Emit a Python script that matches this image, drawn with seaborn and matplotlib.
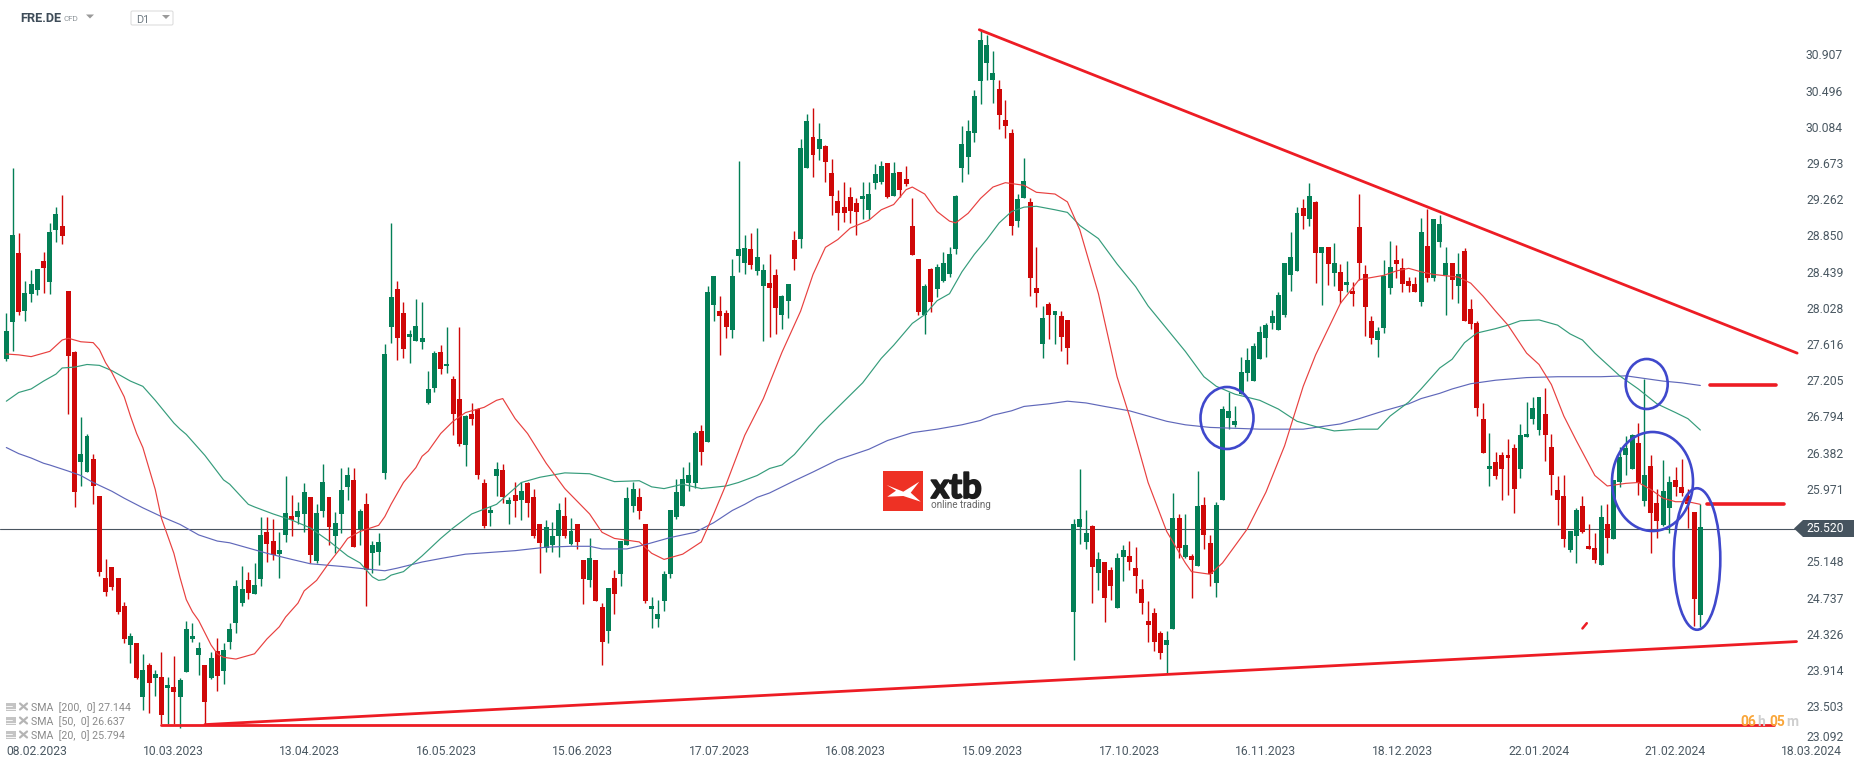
import numpy as np
import seaborn as sns
import matplotlib.pyplot as plt
import matplotlib.patheffects as pe
from matplotlib.patches import Ellipse, Polygon, FancyBboxPatch

# daily candles
highs = [
    27.95, 29.61, 28.86, 28.32, 28.44, 28.45, 28.65, 28.98, 29.16, 29.30,
    28.20, 27.52, 26.76, 26.57, 26.34, 25.85, 25.13, 25.04, 24.92, 24.64,
    24.29, 24.17, 24.05, 23.94, 23.87, 24.07, 23.79, 24.03, 23.77, 24.43,
    24.40, 24.18, 23.92, 24.07, 24.23, 24.17, 24.40, 24.89, 25.06, 24.99,
    25.09, 25.61, 25.61, 25.59, 25.44, 26.08, 25.87, 25.79, 26.00, 25.84,
    25.76, 26.22, 25.84, 25.67, 26.18, 26.19, 26.18, 25.71, 25.89, 25.34,
    25.43, 27.60, 28.98, 28.32, 28.08, 27.76, 28.11, 28.08, 27.29, 27.51,
    27.58, 27.79, 27.23, 27.79, 26.78, 26.92, 26.86, 26.05, 25.74, 26.25,
    26.22, 25.84, 26.01, 26.01, 26.01, 25.93, 25.54, 25.58, 25.56, 25.78,
    25.84, 25.60, 25.53, 25.12, 25.38, 25.12, 24.63, 24.80, 25.01, 25.34,
    25.96, 26.02, 25.95, 25.53, 24.70, 24.66, 25.00, 25.70, 26.05, 26.19,
    26.25, 26.60, 26.67, 28.26, 28.37, 28.14, 27.98, 28.57, 29.69, 28.84,
    28.86, 28.92, 28.51, 28.62, 28.45, 28.15, 28.28, 28.89, 29.94, 30.23,
    30.29, 30.12, 29.87, 29.71, 29.36, 29.45, 29.39, 29.26, 29.45, 29.45,
    29.65, 29.69, 29.66, 29.68, 29.56, 29.63, 29.27, 28.57, 28.28, 28.46,
    28.51, 28.65, 28.70, 29.30, 30.09, 30.16, 30.50, 31.19, 31.13, 30.95,
    30.62, 30.39, 30.05, 29.31, 29.72, 29.26, 28.70, 28.03, 28.07, 27.97,
    27.97, 27.87, 25.59, 26.17, 25.70, 25.52, 25.22, 25.10, 25.04, 25.20,
    25.29, 25.34, 25.27, 24.91, 24.65, 24.57, 24.31, 24.31, 25.89, 25.65,
    25.65, 25.19, 26.14, 25.84, 25.41, 25.79, 26.89, 27.05, 26.88, 27.45,
    27.55, 27.61, 27.80, 27.83, 27.98, 28.19, 28.52, 28.88, 29.16, 29.25,
    29.44, 29.23, 28.70, 28.70, 28.75, 28.51, 28.54, 28.30, 29.31, 28.50,
    27.92, 27.79, 28.56, 28.77, 28.73, 28.58, 28.36, 28.36, 29.04, 29.14,
    29.03, 29.07, 28.70, 28.52, 28.63, 28.69, 28.11, 27.86, 26.92, 26.58,
    26.36, 26.36, 26.51, 26.45, 26.68, 26.93, 26.99, 26.99, 27.09, 26.57,
    26.08, 26.09, 25.46, 25.72, 25.85, 25.53, 25.43, 25.75, 25.76, 26.04,
    26.42, 26.54, 26.57, 26.69, 27.19, 26.32, 25.94, 26.27, 26.08, 26.19,
    26.28, 25.93, 25.67, 25.76,
]
body_tops = [
    27.74, 28.84, 28.63, 28.18, 28.28, 28.45, 28.54, 28.88, 29.08, 28.95,
    28.20, 27.50, 26.34, 26.54, 26.28, 25.85, 24.92, 25.04, 24.92, 24.60,
    24.25, 24.17, 23.87, 23.92, 23.82, 23.78, 23.69, 23.67, 23.75, 24.33,
    24.25, 24.12, 23.92, 24.00, 24.08, 24.09, 24.33, 24.83, 24.79, 24.89,
    24.84, 25.41, 25.44, 25.34, 25.24, 25.66, 25.63, 25.68, 25.90, 25.84,
    25.66, 26.01, 25.84, 25.55, 25.92, 26.10, 26.04, 25.68, 25.76, 25.29,
    25.33, 27.48, 28.13, 28.22, 27.95, 27.71, 27.80, 27.66, 27.08, 27.49,
    27.50, 27.37, 27.19, 26.97, 26.77, 26.79, 26.85, 26.00, 25.69, 26.16,
    26.15, 25.81, 25.87, 25.91, 26.00, 25.84, 25.53, 25.50, 25.40, 25.70,
    25.63, 25.45, 25.53, 25.12, 25.15, 25.12, 24.58, 24.80, 24.92, 25.34,
    25.83, 25.94, 25.84, 25.53, 24.60, 24.50, 24.96, 25.69, 25.90, 26.05,
    26.10, 26.58, 26.60, 28.19, 28.37, 27.97, 27.95, 28.37, 28.68, 28.69,
    28.68, 28.59, 28.44, 28.29, 28.38, 28.14, 28.28, 28.78, 29.84, 30.14,
    29.96, 29.94, 29.86, 29.55, 29.23, 29.16, 29.28, 29.21, 29.29, 29.31,
    29.54, 29.63, 29.66, 29.55, 29.56, 29.48, 28.95, 28.57, 28.26, 28.45,
    28.47, 28.52, 28.62, 29.29, 29.88, 30.03, 30.43, 31.07, 31.01, 30.70,
    30.51, 30.16, 30.01, 29.25, 29.46, 29.22, 28.24, 27.89, 28.05, 27.97,
    27.92, 27.87, 25.53, 25.59, 25.43, 25.51, 25.13, 25.10, 25.01, 25.15,
    25.24, 25.17, 25.03, 24.79, 24.42, 24.52, 24.29, 24.21, 25.60, 25.60,
    25.30, 25.17, 25.74, 25.75, 25.32, 25.75, 26.85, 26.83, 26.71, 27.27,
    27.41, 27.57, 27.73, 27.81, 27.92, 28.16, 28.52, 28.59, 29.09, 29.15,
    29.29, 29.22, 28.70, 28.70, 28.52, 28.42, 28.30, 28.20, 28.93, 28.39,
    27.86, 27.74, 28.37, 28.48, 28.55, 28.46, 28.32, 28.28, 28.88, 28.71,
    29.03, 28.97, 28.52, 28.52, 28.39, 28.66, 28.00, 27.83, 26.74, 26.20,
    26.25, 26.32, 26.32, 26.41, 26.55, 26.56, 26.86, 26.99, 26.79, 26.42,
    25.92, 25.85, 25.46, 25.70, 25.74, 25.28, 25.26, 25.61, 25.53, 26.04,
    26.30, 26.41, 26.55, 26.46, 26.10, 26.20, 25.78, 25.91, 26.02, 26.04,
    25.96, 25.85, 25.67, 25.50,
]
body_bottoms = [
    27.42, 27.85, 27.96, 27.97, 28.17, 28.21, 28.46, 28.30, 28.90, 28.83,
    27.46, 25.90, 26.25, 26.13, 25.97, 24.99, 24.76, 24.81, 24.53, 24.22,
    24.15, 23.77, 23.56, 23.72, 23.77, 23.35, 23.66, 23.61, 23.56, 23.84,
    24.22, 24.04, 23.50, 23.77, 23.80, 23.85, 24.19, 24.40, 24.63, 24.74,
    24.73, 24.91, 25.31, 25.18, 25.19, 25.41, 25.58, 25.62, 25.65, 25.18,
    25.11, 25.68, 25.50, 25.40, 25.65, 25.96, 25.27, 25.48, 25.01, 25.20,
    25.21, 26.12, 27.79, 27.66, 27.54, 27.67, 27.63, 27.62, 26.92, 27.09,
    27.31, 27.34, 26.79, 26.45, 26.44, 26.74, 26.09, 25.51, 25.66, 26.08,
    25.84, 25.76, 25.80, 25.81, 25.77, 25.40, 25.32, 25.26, 25.29, 25.40,
    25.40, 25.31, 25.33, 24.91, 24.90, 24.65, 24.18, 24.31, 24.73, 24.96,
    25.29, 25.74, 25.68, 24.65, 24.56, 24.45, 24.65, 24.96, 25.61, 25.74,
    26.00, 26.00, 26.36, 26.47, 28.04, 27.91, 27.79, 27.76, 28.60, 28.52,
    28.50, 28.43, 28.26, 28.23, 28.01, 27.93, 28.09, 28.57, 28.80, 29.61,
    29.76, 29.82, 29.68, 29.29, 29.09, 29.09, 29.12, 29.11, 29.25, 29.13,
    29.44, 29.45, 29.28, 29.29, 29.36, 29.42, 28.61, 27.96, 27.93, 28.08,
    28.22, 28.32, 28.40, 28.68, 29.61, 29.73, 30.01, 30.60, 30.81, 30.62,
    30.21, 30.09, 28.94, 29.00, 29.27, 28.35, 28.18, 27.59, 27.93, 27.93,
    27.68, 27.55, 24.53, 25.50, 25.33, 25.04, 24.97, 24.69, 24.83, 24.57,
    25.16, 25.10, 24.94, 24.63, 24.38, 24.19, 24.06, 24.15, 24.33, 25.26,
    25.16, 25.12, 25.06, 25.41, 24.96, 24.86, 25.81, 26.75, 26.67, 27.02,
    27.26, 27.17, 27.42, 27.66, 27.83, 27.76, 27.93, 28.38, 28.43, 29.06,
    29.03, 28.64, 28.63, 28.51, 28.41, 28.20, 28.27, 28.17, 28.52, 28.02,
    27.66, 27.64, 27.78, 28.23, 28.51, 28.28, 28.26, 28.19, 28.08, 28.35,
    28.35, 28.76, 28.38, 28.33, 28.26, 27.86, 27.82, 26.86, 26.35, 26.16,
    26.08, 26.16, 26.29, 25.94, 26.16, 26.53, 26.74, 26.61, 26.55, 26.09,
    25.81, 25.36, 25.24, 25.40, 25.44, 25.25, 25.12, 25.07, 25.38, 25.36,
    26.01, 26.33, 26.17, 26.00, 25.80, 25.66, 25.57, 25.52, 25.72, 25.96,
    25.89, 25.76, 24.68, 24.49,
]
lows = [
    27.40, 27.51, 27.93, 27.86, 28.08, 28.16, 28.18, 28.17, 28.76, 28.74,
    26.79, 25.73, 25.97, 26.13, 25.76, 24.94, 24.71, 24.78, 24.50, 24.17,
    23.94, 23.76, 23.41, 23.37, 23.57, 23.25, 23.25, 23.25, 23.20, 23.84,
    24.19, 23.81, 23.25, 23.76, 23.62, 23.71, 24.10, 24.29, 24.60, 24.68,
    24.73, 24.83, 25.10, 25.12, 24.92, 25.33, 25.40, 25.54, 25.44, 25.09,
    25.09, 25.61, 25.29, 25.20, 25.43, 25.81, 25.27, 25.30, 24.60, 24.98,
    25.07, 26.05, 27.61, 27.41, 27.43, 27.38, 27.63, 27.54, 26.91, 27.05,
    27.25, 27.26, 26.55, 26.43, 26.20, 26.67, 26.05, 25.49, 25.51, 25.85,
    25.77, 25.54, 25.62, 25.58, 25.62, 25.37, 24.98, 25.21, 25.21, 25.16,
    25.38, 25.29, 25.25, 24.62, 24.81, 24.65, 23.92, 24.17, 24.50, 24.83,
    25.29, 25.67, 25.59, 24.63, 24.34, 24.36, 24.54, 24.92, 25.59, 25.74,
    25.91, 25.95, 26.21, 26.47, 27.86, 27.47, 27.66, 27.66, 28.42, 28.40,
    28.45, 28.38, 27.63, 27.68, 27.71, 27.77, 27.89, 28.44, 28.69, 29.61,
    29.51, 29.70, 29.45, 29.07, 28.90, 28.99, 28.98, 28.84, 29.03, 29.03,
    29.37, 29.42, 29.27, 29.29, 29.28, 29.40, 28.61, 27.93, 27.71, 27.96,
    28.13, 28.30, 28.36, 28.62, 29.45, 29.54, 29.91, 30.34, 30.62, 30.35,
    30.05, 29.95, 28.84, 28.93, 29.27, 28.14, 28.02, 27.43, 27.65, 27.60,
    27.52, 27.36, 23.98, 25.31, 25.25, 24.63, 24.78, 24.41, 24.66, 24.57,
    24.88, 25.01, 24.74, 24.50, 24.19, 24.08, 23.99, 23.83, 24.33, 25.15,
    25.15, 24.69, 25.06, 25.25, 24.83, 24.70, 25.81, 26.62, 26.65, 27.02,
    27.17, 27.17, 27.42, 27.45, 27.77, 27.76, 27.90, 28.20, 28.43, 28.91,
    28.94, 28.29, 28.04, 28.27, 28.26, 28.06, 28.19, 28.03, 28.33, 27.69,
    27.59, 27.44, 27.72, 28.17, 28.35, 28.19, 28.19, 28.19, 28.03, 28.30,
    28.31, 28.70, 27.93, 28.11, 28.06, 27.86, 27.77, 26.77, 26.35, 25.97,
    26.05, 25.81, 25.87, 25.66, 26.06, 26.53, 26.68, 26.55, 26.26, 25.87,
    25.52, 25.27, 25.22, 25.09, 25.43, 25.25, 25.09, 25.07, 25.20, 25.36,
    25.96, 26.09, 26.17, 25.87, 25.74, 25.20, 25.37, 25.51, 25.43, 25.85,
    25.86, 25.49, 24.37, 24.36,
]
direction = (
    "GGRGGGRGGR" "RRGGRRRRRR" "GRGRGRGRGG" "GGRGRGGGGR" "GGRRGGRGGR"
    "GGRGGGRGRG" "GGGRRGGGGG" "RGRRGRRRGG" "RGRGRRRGGG" "RGRRGRRGRG"
    "GGRRGGGGGG" "GGRGGRRGGG" "RGGRRGGRGG" "RGRRRRRRGG" "GGRGRRRRGR"
    "GGGGGGGGGG" "RRRGGRRGRG" "RRGGGRGRRG" "GRRRRRRGGR" "GRGRRGGGGG"
    "GGGGGGGGGR" "GRGRGRGRRR" "RGGGRRRRGR" "GGGRGRRRRG" "RRRRGGGGRR"
    "RRGGRRRGRG" "GGGRGRRGGR" "RRRG"
)

sma20_x = [
    0, 2, 4, 7, 9, 10, 12, 14, 15, 16, 17, 19, 20, 21, 22, 24, 25, 27, 28, 29,
    30, 31, 33, 34, 35, 37, 39, 40, 42, 44, 45, 47, 48, 50, 52, 54, 55, 57, 60,
    61, 62, 64, 66, 67, 68, 70, 72, 74, 77, 79, 80, 82, 84, 87, 90, 94, 96, 98,
    102, 104, 106, 109, 112, 114, 116, 119, 122, 125, 128, 130, 132, 134, 136,
    139, 141, 143, 145, 146, 148, 150, 152, 153, 155, 157, 159, 161, 164, 166,
    169, 171, 173, 176, 179, 181, 184, 187, 190, 191, 194, 196, 200, 203, 206,
    209, 211, 215, 218, 222, 224, 226, 228, 230, 234, 236, 238, 240, 242, 245,
    247, 249, 251, 253, 256, 258, 261, 263, 265, 267, 269, 271, 273,
]
sma20 = [
    27.48, 27.47, 27.45, 27.51, 27.64, 27.66, 27.62, 27.61, 27.53, 27.38, 27.27,
    26.99, 26.77, 26.57, 26.41, 25.93, 25.60, 25.20, 24.92, 24.67, 24.53, 24.43,
    24.15, 24.05, 24.01, 23.99, 24.03, 24.05, 24.22, 24.36, 24.47, 24.63, 24.77,
    24.89, 25.09, 25.27, 25.37, 25.45, 25.52, 25.62, 25.76, 26.01, 26.18, 26.31,
    26.37, 26.57, 26.71, 26.81, 26.87, 26.95, 26.97, 26.74, 26.57, 26.23, 25.94,
    25.65, 25.44, 25.37, 25.33, 25.20, 25.13, 25.19, 25.33, 25.65, 25.99, 26.55,
    26.97, 27.50, 27.97, 28.39, 28.70, 28.79, 28.92, 29.01, 29.13, 29.19, 29.36,
    29.39, 29.31, 29.11, 29.00, 28.98, 29.09, 29.26, 29.39, 29.44, 29.41, 29.33,
    29.31, 29.22, 28.90, 28.17, 27.22, 26.77, 26.01, 25.45, 25.09, 24.99, 24.96,
    25.09, 25.48, 25.90, 26.43, 27.11, 27.47, 28.06, 28.33, 28.38, 28.43, 28.46,
    28.42, 28.39, 28.36, 28.29, 28.14, 27.97, 27.81, 27.49, 27.36, 27.13, 26.77,
    26.49, 26.09, 25.97, 26.00, 26.01, 25.93, 25.83, 25.79, 25.79, 25.76,
]
sma50_x = [
    0, 2, 4, 6, 8, 9, 11, 13, 15, 17, 20, 22, 24, 27, 28, 29, 32, 35, 36, 39,
    40, 43, 46, 49, 52, 55, 57, 59, 60, 61, 62, 64, 67, 70, 72, 75, 79, 83, 86,
    90, 94, 98, 102, 104, 106, 109, 112, 116, 118, 121, 123, 125, 127, 131, 134,
    138, 141, 143, 146, 148, 150, 152, 154, 156, 158, 160, 162, 164, 166, 169,
    171, 173, 176, 179, 182, 184, 187, 190, 193, 195, 198, 202, 205, 208, 211,
    214, 218, 221, 223, 226, 228, 231, 233, 235, 237, 240, 242, 244, 247, 250,
    252, 254, 256, 258, 260, 263, 266, 269, 271, 273,
]
sma50 = [
    26.94, 27.04, 27.08, 27.17, 27.25, 27.32, 27.33, 27.36, 27.35, 27.29, 27.17,
    27.11, 26.95, 26.69, 26.62, 26.56, 26.32, 26.04, 25.99, 25.76, 25.73, 25.65,
    25.58, 25.49, 25.34, 25.17, 25.09, 24.93, 24.89, 24.90, 24.95, 24.99, 25.17,
    25.37, 25.49, 25.65, 25.76, 26.01, 26.07, 26.12, 26.11, 26.02, 26.03, 25.96,
    25.94, 25.99, 25.94, 25.97, 26.01, 26.09, 26.17, 26.21, 26.33, 26.66, 26.87,
    27.15, 27.43, 27.58, 27.83, 27.93, 28.09, 28.17, 28.42, 28.62, 28.79, 28.98,
    29.11, 29.16, 29.17, 29.13, 29.10, 28.95, 28.80, 28.51, 28.25, 28.03, 27.77,
    27.51, 27.22, 27.11, 27.02, 26.95, 26.85, 26.71, 26.65, 26.60, 26.62, 26.62,
    26.77, 26.93, 27.08, 27.32, 27.42, 27.61, 27.72, 27.77, 27.81, 27.86, 27.87,
    27.81, 27.71, 27.64, 27.49, 27.36, 27.23, 27.08, 26.91, 26.81, 26.74, 26.61,
]
sma200_x = [
    0, 2, 4, 6, 7, 10, 12, 14, 17, 19, 22, 25, 28, 31, 34, 36, 39, 42, 46, 49,
    54, 58, 61, 63, 67, 70, 74, 78, 82, 87, 91, 94, 96, 100, 103, 107, 111, 114,
    117, 119, 121, 123, 127, 130, 134, 139, 142, 146, 150, 154, 157, 159, 162,
    164, 168, 171, 174, 177, 181, 184, 187, 190, 194, 198, 202, 209, 215, 218,
    222, 226, 228, 231, 233, 236, 240, 245, 250, 257, 261, 264, 267, 270, 273,
]
sma200 = [
    26.41, 26.34, 26.29, 26.23, 26.21, 26.14, 26.09, 26.01, 25.91, 25.83, 25.72,
    25.62, 25.53, 25.41, 25.34, 25.32, 25.26, 25.20, 25.13, 25.08, 25.05, 25.02,
    25.00, 25.03, 25.10, 25.14, 25.19, 25.21, 25.23, 25.27, 25.28, 25.28, 25.25,
    25.25, 25.30, 25.38, 25.44, 25.55, 25.69, 25.76, 25.84, 25.89, 26.03, 26.13,
    26.27, 26.39, 26.49, 26.58, 26.62, 26.67, 26.72, 26.78, 26.83, 26.88, 26.91,
    26.94, 26.92, 26.88, 26.83, 26.77, 26.71, 26.67, 26.64, 26.63, 26.62, 26.62,
    26.68, 26.74, 26.83, 26.91, 26.97, 27.03, 27.08, 27.14, 27.18, 27.21, 27.22,
    27.22, 27.23, 27.20, 27.17, 27.15, 27.12,
]

# hand drawn lines on the chart
falling_x = [156.8, 288.6]
falling_y = [31.19, 27.49]
rising_x = [32.0, 288.5]
rising_y = [23.24, 24.19]
floor_x = [25.0, 284.8]
floor_y = [23.24, 23.24]
level1_x = [274.5, 285.2]
level1_y = [27.12, 27.12]
level2_x = [274.0, 286.5]
level2_y = [25.76, 25.76]
dash_x = [254.0, 254.7]
dash_y = [24.34, 24.40]

price_ticks = [
    30.907, 30.496, 30.084, 29.673, 29.262, 28.850, 28.439, 28.028, 27.616, 27.205,
    26.794, 26.382, 25.971, 25.148, 24.737, 24.326, 23.914, 23.503,
]
bottom_price_label = "23.092"
date_ticks = list(range(0, 287, 22))
date_labels = [
    "08.02.2023", "10.03.2023", "13.04.2023", "16.05.2023", "15.06.2023",
    "17.07.2023", "16.08.2023", "15.09.2023", "17.10.2023", "16.11.2023",
    "18.12.2023", "22.01.2024", "21.02.2024", "18.03.2024",
]
last_price = 25.520
sma_labels = ["SMA  [200,  0] 27.144", "SMA  [50,  0] 26.637", "SMA  [20,  0] 25.794"]

GREEN = "#037f56"
RED = "#cf0808"
LINE_RED = "#ed1c24"
TEXT = "#4a5862"
W, H = 1866, 767


def cal(values):
    # my first reading used a slightly wrong price scale, this lines it up with the axis labels
    return 0.2248 + 0.99268 * np.asarray(values)


sns.set_theme(style="white")
plt.rcParams["font.family"] = ["Roboto", "DejaVu Sans"]

fig = plt.figure(figsize=(W / 100, H / 100), dpi=100)
ax = fig.add_axes([0, (H - 742) / H, 1800 / W, 742 / H])

x = np.arange(len(highs))
up = np.array([d == "G" for d in direction])
colors = [GREEN if u else RED for u in up]
tops = cal(body_tops)
bottoms = cal(body_bottoms)

ax.axhline(last_price, color="#4a5560", lw=0.8, zorder=1)
ax.vlines(x, cal(lows), cal(highs), colors=colors, lw=1.0, zorder=2)
ax.bar(x, tops - bottoms, bottom=bottoms, width=0.8, color=colors, lw=0, zorder=3)

sns.lineplot(x=sma200_x, y=cal(sma200), color="#6068ba", lw=0.85, ax=ax, zorder=4)
sns.lineplot(x=sma50_x, y=cal(sma50), color="#359c7b", lw=0.85, ax=ax, zorder=4)
sns.lineplot(x=sma20_x, y=cal(sma20), color="#e8403f", lw=0.85, ax=ax, zorder=4)

sns.lineplot(x=falling_x, y=cal(falling_y), color=LINE_RED, lw=2.0, ax=ax, zorder=5)
sns.lineplot(x=rising_x, y=cal(rising_y), color=LINE_RED, lw=2.0, ax=ax, zorder=5)
sns.lineplot(x=floor_x, y=cal(floor_y), color=LINE_RED, lw=2.0, ax=ax, zorder=5)
sns.lineplot(x=level1_x, y=cal(level1_y), color=LINE_RED, lw=2.6, ax=ax, zorder=5)
sns.lineplot(x=level2_x, y=cal(level2_y), color=LINE_RED, lw=2.6, ax=ax, zorder=5)
sns.lineplot(x=dash_x, y=cal(dash_y), color=LINE_RED, lw=1.8, ax=ax, zorder=5)

ax.set_xlim(-1.02, 289.06)
ax.set_ylim(31.524 - 0.011357 * 742, 31.524)
ax.set_xlabel("")
ax.set_ylabel("")
sns.despine(ax=ax, left=True, bottom=True, right=True, top=True)
ax.yaxis.tick_right()
ax.set_yticks(price_ticks, [f"{v:.3f}" for v in price_ticks])
ax.set_xticks(date_ticks, date_labels, ha="left")
ax.tick_params(axis="y", length=0, pad=4.3, labelsize=8.7, labelcolor=TEXT)
ax.tick_params(axis="x", length=0, pad=2.5, labelsize=8.7, labelcolor=TEXT)

# overlay in image pixels for the platform furniture
ov = fig.add_axes([0, 0, 1, 1])
ov.set_xlim(0, W)
ov.set_ylim(H, 0)
ov.axis("off")

# the platform pushes the lowest label up so it stays above the dates
ov.text(1806, 737.6, bottom_price_label, color=TEXT, fontsize=8.7, va="center", ha="left")

# circles drawn by hand
for cx, cy, ew, eh in [(1227, 418, 53, 62), (1646.7, 384, 42, 50),
                       (1652.5, 481.5, 81, 99), (1697, 559, 46.6, 141.5)]:
    ov.add_patch(Ellipse((cx, cy), ew, eh, fill=False, ec="#3f48cc", lw=1.9, zorder=6))

# price tag
ov.add_patch(Polygon([(1794, 528.5), (1803, 520), (1854, 520), (1854, 537), (1803, 537)],
                     color="#46545f", lw=0))
ov.text(1806, 529, f"{last_price:.3f}", color="white", fontsize=8.7, va="center", ha="left")

# header
ov.text(20, 18.5, "FRE.DE", color="#3e4c58", fontsize=9.2, fontweight="bold", va="center")
ov.text(63, 19, "CFD", color="#8d9499", fontsize=5.8, va="center")
ov.add_patch(Polygon([(86, 14.5), (94, 14.5), (90, 18.5)], color="#9a9a9a", lw=0))
ov.add_patch(FancyBboxPatch((131, 11), 42, 14, boxstyle="round,pad=0,rounding_size=1.5",
                            fc="white", ec="#dddddd", lw=0.8))
ov.text(136, 20, "D1", color="#6f7a82", fontsize=7.8, va="center")
ov.add_patch(Polygon([(162, 15), (170, 15), (166, 19)], color="#9a9a9a", lw=0))

# sma legend
for row, label in zip([707.5, 721.5, 735.5], sma_labels):
    ov.add_patch(Polygon([(6, row - 5), (16, row - 5), (16, row + 3), (6, row + 3)],
                         color="#c4c4c4", lw=0))
    ov.plot([6, 12], [row - 2, row - 2], color="white", lw=0.6)
    ov.plot([6, 16], [row + 1, row + 1], color="white", lw=0.6)
    ov.plot([20, 27], [row - 4, row + 2], color="#b5b5b5", lw=1.6)
    ov.plot([20, 27], [row + 2, row - 4], color="#b5b5b5", lw=1.6)
    ov.text(31, row + 0.5, label, color="#8a8a8a", fontsize=7.7, va="center")

# logo
ov.add_patch(Polygon([(882.7, 471), (923.3, 471), (923.3, 511), (882.7, 511)], color="#ee3124", lw=0))
ov.add_patch(Polygon([(886.7, 485), (903.3, 491.7), (919.3, 481.7), (910.7, 492.7),
                      (920.7, 501.7), (903.3, 496), (887.3, 496.7), (896, 490.7)],
                     color="white", lw=0))
ov.text(931, 498, "xtb", color="#1c1c1c", fontsize=25, fontweight="bold", family="Lato",
        va="baseline", path_effects=[pe.withStroke(linewidth=1.3, foreground="#1c1c1c")])
ov.text(931, 505.5, "online trading", color="#666666", fontsize=7.1, va="center")

# candle timer
for tx, part, col in [(1740, "06", "#f9a63a"), (1757, "h", "#cfcfcf"),
                      (1769, "05", "#f9a63a"), (1786, "m", "#cfcfcf")]:
    ov.text(tx, 722, part, color=col, fontsize=10, fontweight="bold", va="center", ha="left")

fig.savefig("out.png", dpi=100, facecolor="white")
